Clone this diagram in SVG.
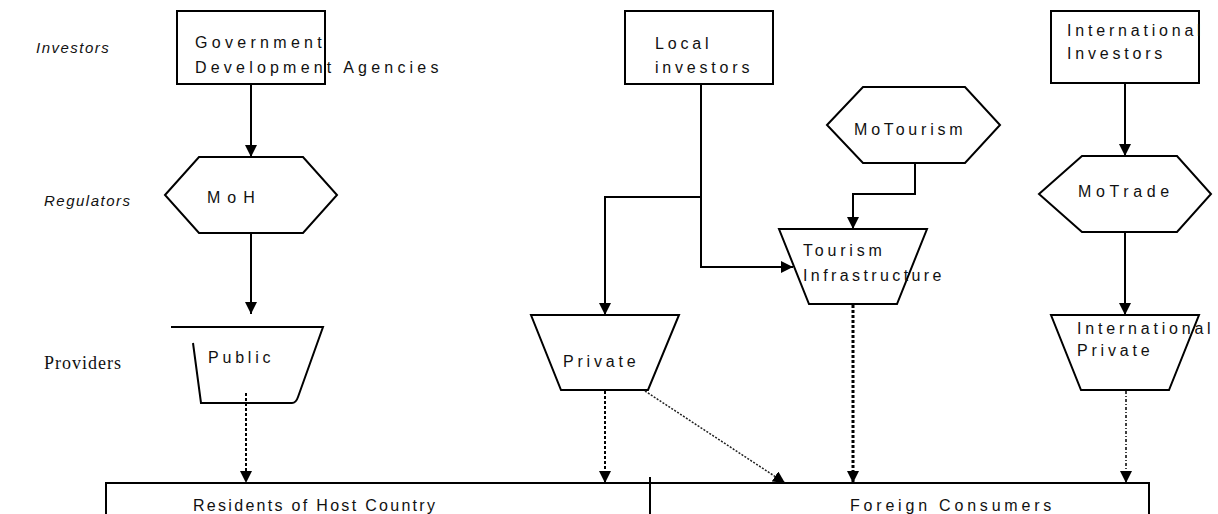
<svg xmlns="http://www.w3.org/2000/svg" width="1218" height="514" viewBox="0 0 1218 514">
<defs>
<style>
.shape{fill:#fff;stroke:#000;stroke-width:2}
.open{fill:none;stroke:#000;stroke-width:2}
.t{font-family:"Liberation Sans",Arial,sans-serif;font-size:16px;letter-spacing:3.8px;fill:#111}
.lab{font-family:"Liberation Sans",Arial,sans-serif;font-size:15px;font-style:italic;letter-spacing:1.5px;fill:#111}
.labs{font-family:"Liberation Serif","Times New Roman",serif;font-size:18px;letter-spacing:1px;fill:#111}
.c{fill:none;stroke:#000;stroke-width:2}
.arr{marker-end:url(#ah)}
</style>
<marker id="ah" viewBox="0 0 10 10" refX="10" refY="5" markerUnits="userSpaceOnUse" markerWidth="12" markerHeight="12" orient="auto">
<path d="M0,0 L10,5 L0,10 z" fill="#000"/>
</marker>
</defs>
<rect width="1218" height="514" fill="#fff"/>

<g id="labels">
<text class="lab" x="36" y="53">Investors</text>
<text class="lab" x="44" y="206">Regulators</text>
<text class="labs" x="44" y="369">Providers</text>
</g>

<g id="gov">
<rect class="shape" x="177" y="11" width="148" height="73"/>
<text class="t" x="195" y="48" style="letter-spacing:4.3px">Government</text>
<text class="t" x="195" y="73" style="letter-spacing:4.2px">Development Agencies</text>
</g>
<g id="local">
<rect class="shape" x="625" y="11" width="148" height="73"/>
<text class="t" x="655" y="49">Local</text>
<text class="t" x="655" y="73">investors</text>
</g>
<g id="intl">
<rect class="shape" x="1051" y="11" width="148" height="72"/>
<text class="t" x="1067" y="36">International</text>
<text class="t" x="1067" y="59">Investors</text>
</g>

<g id="moh">
<polygon class="shape" points="165,195 199,157 303,157 337,195 303,233 199,233"/>
<text class="t" x="207" y="203" style="letter-spacing:7px">MoH</text>
</g>
<g id="motourism">
<polygon class="shape" points="827,125 863,87 965,87 1000,125 965,163 863,163"/>
<text class="t" x="854" y="135">MoTourism</text>
</g>
<g id="motrade">
<polygon class="shape" points="1039,194 1082,156 1177,156 1211,194 1177,232 1082,232"/>
<text class="t" x="1078" y="197" style="letter-spacing:4.6px">MoTrade</text>
</g>

<g id="public">
<path class="open" d="M171,327 H323 L298,397 Q296,403 292,403 H201 L193,343"/>
<text class="t" x="208" y="363">Public</text>
</g>
<g id="private">
<polygon class="shape" points="531,315 679,315 648,390 561,390"/>
<text class="t" x="563" y="367">Private</text>
</g>
<g id="tourism">
<polygon class="shape" points="779,229 927,229 897,304 809,304"/>
<text class="t" x="803" y="256">Tourism</text>
<text class="t" x="803" y="281" style="letter-spacing:3.4px">Infrastructure</text>
</g>
<g id="intlprivate">
<polygon class="shape" points="1051,315 1199,315 1169,390 1081,390"/>
<text class="t" x="1077" y="334">International</text>
<text class="t" x="1077" y="356">Private</text>
</g>

<g id="consumers">
<rect class="shape" x="106" y="483" width="1043" height="45"/>
<line x1="650" y1="477" x2="650" y2="514" stroke="#000" stroke-width="2"/>
<text class="t" x="193" y="511" style="letter-spacing:2.3px">Residents of Host Country</text>
<text class="t" x="850" y="511">Foreign Consumers</text>
</g>

<g id="connectors">
<path class="c arr" d="M251,84 V157"/>
<path class="c arr" d="M251,233 V314"/>
<path class="c arr" d="M701,84 V197 H605 V315"/>
<path class="c arr" d="M701,197 V267 H793"/>
<path class="c arr" d="M915,163 V194 H853 V229"/>
<path class="c arr" d="M1125,83 V156"/>
<path class="c arr" d="M1125,232 V315"/>
<path class="arr" d="M246,393 V483" fill="none" stroke="#000" stroke-width="2" stroke-dasharray="3 2"/>
<path class="arr" d="M605,391 V483" fill="none" stroke="#000" stroke-width="2" stroke-dasharray="3 2"/>
<path class="arr" d="M645,391 L785,483" fill="none" stroke="#222" stroke-width="1.5" stroke-dasharray="2 1.5"/>
<path class="arr" d="M853,305 V483" fill="none" stroke="#000" stroke-width="3" stroke-dasharray="3 2"/>
<path class="arr" d="M1126,391 V483" fill="none" stroke="#000" stroke-width="1.5" stroke-dasharray="3 2 1 2"/>
</g>
</svg>
